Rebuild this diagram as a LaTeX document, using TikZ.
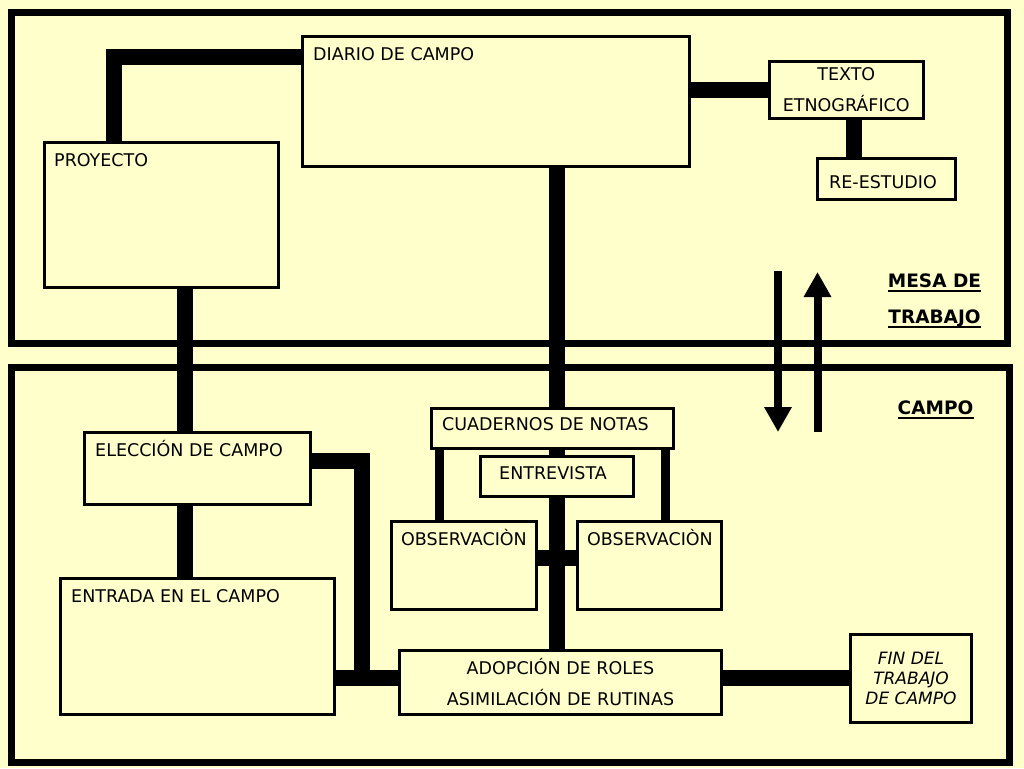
\documentclass[tikz,border=0pt]{standalone}
\usepackage{fontspec}
\setmainfont{DejaVu Sans}
\usetikzlibrary{arrows.meta}
\definecolor{papel}{RGB}{255,255,204}

\begin{document}
\begin{tikzpicture}[x=1pt,y=-1pt,
    caja/.style={draw,line width=3pt,outer sep=0pt,inner sep=0pt,anchor=north west,
      align=center,font=\fontsize{17.5}{21}\selectfont},
    etiq/.style={anchor=base west,inner sep=0pt,font=\fontsize{17.5}{21}\selectfont},
    rotulo/.style={anchor=base,inner sep=0pt,font=\fontsize{18.5}{22}\selectfont\bfseries},
    subrayado/.style={draw,line width=2pt},
    marco/.style={draw,line width=7pt},
    barra/.style={draw,line width=16pt},
    barrafina/.style={draw,line width=9pt},
    flecha/.style={line width=8pt,-{Triangle[length=25pt,width=26pt]}}]

  % fondo y marcos
  \fill[papel] (0,0) rectangle (1024,768);
  \useasboundingbox (0,0) rectangle (1024,768);
  \draw[marco] (11.5,13) rectangle (1007.5,343.5);
  \draw[marco] (11.5,367.5) rectangle (1009,762);

  % mesa de trabajo
  \node[caja,minimum width=387pt,minimum height=129pt] (diario) at (302,37) {};
  \node[caja,minimum width=233.5pt,minimum height=145pt] (proyecto) at (44.5,142) {};
  \node[caja,minimum width=153.5pt,minimum height=56.5pt] (texto) at (769.5,61.5)
    {TEXTO\\[10pt]ETNOGRÁFICO};
  \node[caja,minimum width=138pt,minimum height=41.5pt] (reestudio) at (817.5,158) {};

  \node[etiq] (diariot) at ([shift={(11,23)}]diario.north west) {DIARIO DE CAMPO};
  \node[etiq] (proyectot) at ([shift={(9.5,24)}]proyecto.north west) {PROYECTO};
  \node[etiq] (reestudiot) at ([shift={(11.5,30)}]reestudio.north west) {RE-ESTUDIO};

  % campo
  \node[caja,minimum width=226pt,minimum height=72pt] (eleccion) at (84.5,432.5) {};
  \node[caja,minimum width=274pt,minimum height=136.5pt] (entrada) at (60.5,578) {};
  \node[caja,minimum width=242pt,minimum height=40pt] (cuadernos) at (431.5,408.5) {};
  \node[caja,minimum width=153pt,minimum height=40pt] (entrevista) at (480,456.5) {};
  \node[caja,minimum width=145pt,minimum height=88pt] (obsizq) at (391.5,521.5) {};
  \node[caja,minimum width=144pt,minimum height=88pt] (obsder) at (577.5,521.5) {};
  \node[caja,minimum width=322pt,minimum height=64.5pt] (adopcion) at (399.5,650)
    {ADOPCIÓN DE ROLES\\[10pt]ASIMILACIÓN DE RUTINAS};
  \node[caja,minimum width=121pt,minimum height=87.5pt,
    font=\fontsize{17}{20}\selectfont\itshape] (fin) at (850.5,634.5)
    {FIN DEL\\TRABAJO\\DE CAMPO};

  \node[etiq] (elecciont) at ([shift={(10.5,23.5)}]eleccion.north west) {ELECCIÓN DE CAMPO};
  \node[etiq] (entradat) at ([shift={(10.5,24)}]entrada.north west) {ENTRADA EN EL CAMPO};
  \node[etiq] (cuadernost) at ([shift={(10.5,21.5)}]cuadernos.north west) {CUADERNOS DE NOTAS};
  \node[etiq] (entrevistat) at ([shift={(19,22.5)}]entrevista.north west) {ENTREVISTA};
  \node[etiq] (obsizqt) at ([shift={(9.5,23.5)}]obsizq.north west) {OBSERVACIÒN};
  \node[etiq] (obsdert) at ([shift={(9.5,23.5)}]obsder.north west) {OBSERVACIÒN};

  % rotulos
  \node[rotulo] (mesa) at (934.5,287) {MESA DE};
  \node[rotulo] (trabajo) at ([yshift=-36pt]mesa.base) {TRABAJO};
  \node[rotulo] (campo) at (935.5,414) {CAMPO};
  \foreach \r in {mesa,trabajo,campo}
    \path[subrayado] ([yshift=-4pt]\r.base west) -- ([yshift=-4pt]\r.base east);

  % conexiones
  \coordinate (codo) at (361.5,678);
  \path[barra]
    ([yshift=-20pt]diario.north west) -| ([xshift=69pt]proyecto.north west)
    ([xshift=24pt]proyecto.south) -- ([xshift=24pt]proyecto.south |- eleccion.north)
    ([xshift=-12.5pt]eleccion.south) -- ([xshift=-12.5pt]entrada.north)
    ([yshift=8pt]eleccion.east) -| (codo) -- (adopcion.west |- codo)
    (entrada.east |- codo) -- (codo)
    (adopcion.east |- codo) -- (fin.west |- codo)
    (diario.east |- texto.west) -- (texto.west)
    ([xshift=7.5pt]texto.south) -- ([xshift=7.5pt]texto.south |- reestudio.north)
    (diario.south -| entrevista) -- (cuadernos.north -| entrevista)
    (cuadernos.south -| entrevista) -- (entrevista.north)
    (entrevista.south) -- (entrevista.south |- adopcion.north)
    ([yshift=8pt]obsizq.east) -- ([yshift=8pt]obsder.west);
  \path[barrafina]
    ([xshift=8pt]cuadernos.south west) -- ([xshift=8pt]cuadernos.south west |- obsizq.north)
    ([xshift=-8pt]cuadernos.south east) -- ([xshift=-8pt]cuadernos.south east |- obsder.north);

  % flechas entre campo y mesa
  \coordinate (bajaini) at (778,271);
  \coordinate (bajafin) at (778,432);
  \coordinate (subeini) at (817.5,432);
  \coordinate (subefin) at (817.5,272);
  \draw[flecha] (bajaini) -- (bajafin);
  \draw[flecha] (subeini) -- (subefin);
\end{tikzpicture}
\end{document}
